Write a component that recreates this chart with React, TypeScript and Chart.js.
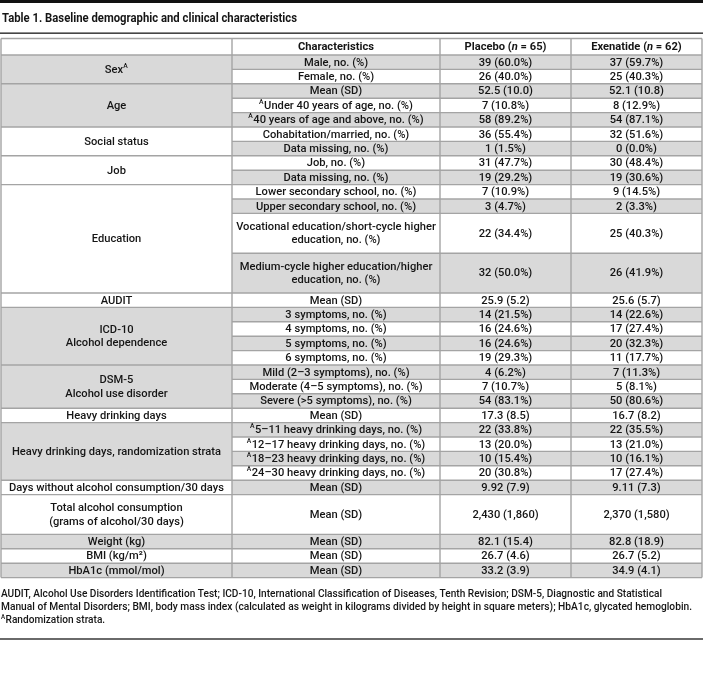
import { useEffect, useRef } from "react";
import { Chart, registerables } from "chart.js";
Chart.register(...registerables);

// ---------- data ----------
const titleText = "Table 1. Baseline demographic and clinical characteristics";
const headers = ["", "Characteristics", "Placebo (*n* = 65)", "Exenatide (*n* = 62)"];

const groupLabels = [
  "Sex{A}",
  "Age",
  "Social status",
  "Job",
  "Education",
  "AUDIT",
  "ICD-10\nAlcohol dependence",
  "DSM-5\nAlcohol use disorder",
  "Heavy drinking days",
  "Heavy drinking days, randomization strata",
  "Days without alcohol consumption/30 days",
  "Total alcohol consumption\n(grams of alcohol/30 days)",
  "Weight (kg)",
  "BMI (kg/m²)",
  "HbA1c (mmol/mol)",
];
const groupSizes = [2, 3, 2, 2, 4, 1, 4, 3, 1, 4, 1, 1, 1, 1, 1];
const groupShaded = [true, true, false, false, false, false, true, true, false, true, false, false, true, false, true];

const characteristics = [
  "Male, no. (%)",
  "Female, no. (%)",
  "Mean (SD)",
  "{A}Under 40 years of age, no. (%)",
  "{A}40 years of age and above, no. (%)",
  "Cohabitation/married, no. (%)",
  "Data missing, no. (%)",
  "Job, no. (%)",
  "Data missing, no. (%)",
  "Lower secondary school, no. (%)",
  "Upper secondary school, no. (%)",
  "Vocational education/short-cycle higher\neducation, no. (%)",
  "Medium-cycle higher education/higher\neducation, no. (%)",
  "Mean (SD)",
  "3 symptoms, no. (%)",
  "4 symptoms, no. (%)",
  "5 symptoms, no. (%)",
  "6 symptoms, no. (%)",
  "Mild (2–3 symptoms), no. (%)",
  "Moderate (4–5 symptoms), no. (%)",
  "Severe (>5 symptoms), no. (%)",
  "Mean (SD)",
  "{A}5–11 heavy drinking days, no. (%)",
  "{A}12–17 heavy drinking days, no. (%)",
  "{A}18–23 heavy drinking days, no. (%)",
  "{A}24–30 heavy drinking days, no. (%)",
  "Mean (SD)",
  "Mean (SD)",
  "Mean (SD)",
  "Mean (SD)",
  "Mean (SD)",
];
const placeboValues = [
  "39 (60.0%)", "26 (40.0%)", "52.5 (10.0)", "7 (10.8%)", "58 (89.2%)",
  "36 (55.4%)", "1 (1.5%)", "31 (47.7%)", "19 (29.2%)", "7 (10.9%)",
  "3 (4.7%)", "22 (34.4%)", "32 (50.0%)", "25.9 (5.2)", "14 (21.5%)",
  "16 (24.6%)", "16 (24.6%)", "19 (29.3%)", "4 (6.2%)", "7 (10.7%)",
  "54 (83.1%)", "17.3 (8.5)", "22 (33.8%)", "13 (20.0%)", "10 (15.4%)",
  "20 (30.8%)", "9.92 (7.9)", "2,430 (1,860)", "82.1 (15.4)", "26.7 (4.6)",
  "33.2 (3.9)",
];
const exenatideValues = [
  "37 (59.7%)", "25 (40.3%)", "52.1 (10.8)", "8 (12.9%)", "54 (87.1%)",
  "32 (51.6%)", "0 (0.0%)", "30 (48.4%)", "19 (30.6%)", "9 (14.5%)",
  "2 (3.3%)", "25 (40.3%)", "26 (41.9%)", "25.6 (5.7)", "14 (22.6%)",
  "17 (27.4%)", "20 (32.3%)", "11 (17.7%)", "7 (11.3%)", "5 (8.1%)",
  "50 (80.6%)", "16.7 (8.2)", "22 (35.5%)", "13 (21.0%)", "10 (16.1%)",
  "17 (27.4%)", "9.11 (7.3)", "2,370 (1,580)", "82.8 (18.9)", "26.7 (5.2)",
  "34.9 (4.1)",
];
const footnotes = [
  "AUDIT, Alcohol Use Disorders Identification Test; ICD-10, International Classification of Diseases, Tenth Revision; DSM-5, Diagnostic and Statistical",
  "Manual of Mental Disorders; BMI, body mass index (calculated as weight in kilograms divided by height in square meters); HbA1c, glycated hemoglobin.",
  "{A}Randomization strata.",
];

// ---------- layout / style ----------
const W = 703;
const H = 696;
const colWidths = [231, 208, 131, 131];
const ROW = 14.4;
const TALL = 39.8;
const HEAD = 16.5;
const TABLE_TOP = 38.5;
const TEXT = "#151515";
const SHADE = "#d9d9d9";
const GRID = "#a4a4a4";
const FONT = "Roboto";
const SIZE = 11.5;
const WEIGHT = "500";

// derived row units (one unit = one single row)
const groupOf: number[] = [];
groupSizes.forEach((n, g) => { for (let i = 0; i < n; i++) groupOf.push(g); });
const rowUnits: number[] = characteristics.map((c, i) =>
  c.includes("\n") || (groupLabels[groupOf[i]].includes("\n") && groupSizes[groupOf[i]] === 1) ? TALL / ROW : 1
);
const headUnits = HEAD / ROW;
const totalRows = headUnits + rowUnits.reduce((a, b) => a + b, 0);
const totalCols = colWidths.reduce((a, b) => a + b, 0) / 100;
const colEdges: number[] = [0];
colWidths.forEach((w) => colEdges.push(colEdges[colEdges.length - 1] + w / 100));
const TABLE_BOTTOM = TABLE_TOP + totalRows * ROW;

type Seg = { t: string; kind: "n" | "sup" | "it" };
function parse(s: string): Seg[] {
  const out: Seg[] = [];
  s.split(/(\{A\}|\*[^*]+\*)/).forEach((p) => {
    if (!p) return;
    if (p === "{A}") out.push({ t: "A", kind: "sup" });
    else if (p.startsWith("*") && p.endsWith("*") && p.length > 2) out.push({ t: p.slice(1, -1), kind: "it" });
    else out.push({ t: p, kind: "n" });
  });
  return out;
}
function segFont(kind: string, bold: boolean, size: number) {
  const b = bold ? "bold " : WEIGHT + " ";
  if (kind === "sup") return `${b}${Math.round(size * 0.6)}px ${FONT}`;
  if (kind === "it") return `italic ${b}${size}px ${FONT}`;
  return `${b}${size}px ${FONT}`;
}
function measureRich(ctx: CanvasRenderingContext2D, s: string, bold: boolean, size: number) {
  let w = 0;
  for (const sg of parse(s)) {
    ctx.font = segFont(sg.kind, bold, size);
    w += ctx.measureText(sg.t).width + (sg.kind === "sup" ? 0.5 : 0);
  }
  return w;
}
function drawRich(
  ctx: CanvasRenderingContext2D, s: string, x: number, y: number,
  o: { align?: "center" | "left"; bold?: boolean; size?: number; sx?: number; color?: string } = {}
) {
  const bold = !!o.bold;
  const size = o.size ?? SIZE;
  const sx = o.sx ?? 1;
  const segs = parse(s);
  const total = measureRich(ctx, s, bold, size);
  ctx.save();
  ctx.translate(x, y);
  ctx.scale(sx, 1);
  ctx.fillStyle = o.color ?? TEXT;
  ctx.textBaseline = "middle";
  ctx.textAlign = "left";
  let cx = o.align === "left" ? 0 : -total / 2;
  for (const sg of segs) {
    ctx.font = segFont(sg.kind, bold, size);
    const dy = sg.kind === "sup" ? -size * 0.33 : 0;
    ctx.fillText(sg.t, cx, dy);
    cx += ctx.measureText(sg.t).width + (sg.kind === "sup" ? 0.5 : 0);
  }
  ctx.restore();
}
function drawCellText(ctx: CanvasRenderingContext2D, s: string, cx: number, cy: number, bold = false) {
  const lines = s.split("\n");
  const lh = 13.4;
  lines.forEach((ln, i) => {
    drawRich(ctx, ln, cx, cy + (i - (lines.length - 1) / 2) * lh + 0.5, { bold, sx: 0.97 });
  });
}

const tablePlugin = {
  id: "tablePlugin",
  beforeDraw(chart: any) {
    const ctx: CanvasRenderingContext2D = chart.ctx;
    ctx.save();
    ctx.fillStyle = "#ffffff";
    ctx.fillRect(0, 0, chart.width, chart.height);
    ctx.restore();
  },
  afterDraw(chart: any) {
    const ctx: CanvasRenderingContext2D = chart.ctx;
    const xs = chart.scales.x;
    const ys = chart.scales.y;
    const px = (u: number) => xs.getPixelForValue(u);
    const py = (u: number) => ys.getPixelForValue(u);

    const tops: number[] = [headUnits];
    rowUnits.forEach((u) => tops.push(tops[tops.length - 1] + u));
    const groupStart: number[] = [];
    let r = 0;
    groupSizes.forEach((n) => { groupStart.push(r); r += n; });

    ctx.save();
    // top rule and title
    ctx.fillStyle = "#111111";
    ctx.fillRect(0, 0, chart.width, 3);
    const tw = measureRich(ctx, titleText, true, 12.5);
    drawRich(ctx, titleText, 2, 18.5, { align: "left", bold: true, size: 12.5, sx: Math.min(1, 295 / tw) });
    ctx.fillStyle = "#1a1a1a";
    ctx.fillRect(0, 32.5, chart.width, 1.3);

    // fills: characteristic rows
    characteristics.forEach((_, i) => {
      if (i % 2 === 0) {
        ctx.fillStyle = SHADE;
        ctx.fillRect(px(colEdges[1]), py(tops[i]), px(colEdges[4]) - px(colEdges[1]), py(tops[i + 1]) - py(tops[i]));
      }
    });
    // fills: group cells
    groupSizes.forEach((n, g) => {
      if (!groupShaded[g]) return;
      const a = groupStart[g];
      ctx.fillStyle = SHADE;
      ctx.fillRect(px(colEdges[0]), py(tops[a]), px(colEdges[1]) - px(colEdges[0]), py(tops[a + n]) - py(tops[a]));
    });

    // grid lines
    ctx.strokeStyle = GRID;
    ctx.lineWidth = 1.4;
    const hline = (u: number, x0: number, x1: number) => {
      ctx.beginPath();
      ctx.moveTo(px(x0), py(u));
      ctx.lineTo(px(x1), py(u));
      ctx.stroke();
    };
    hline(0, colEdges[0], colEdges[4]);
    hline(headUnits, colEdges[0], colEdges[4]);
    for (let i = 1; i <= characteristics.length; i++) {
      const isGroupEnd = groupStart.includes(i) || i === characteristics.length;
      hline(tops[i], isGroupEnd ? colEdges[0] : colEdges[1], colEdges[4]);
    }
    colEdges.forEach((e) => {
      ctx.beginPath();
      ctx.moveTo(px(e), py(0));
      ctx.lineTo(px(e), py(totalRows));
      ctx.stroke();
    });

    // header text
    headers.forEach((h, c) => {
      if (!h) return;
      drawCellText(ctx, h, (px(colEdges[c]) + px(colEdges[c + 1])) / 2, (py(0) + py(headUnits)) / 2, true);
    });
    // group labels
    groupLabels.forEach((g, i) => {
      const a = groupStart[i];
      drawCellText(ctx, g, (px(colEdges[0]) + px(colEdges[1])) / 2, (py(tops[a]) + py(tops[a + groupSizes[i]])) / 2);
    });
    // rows
    characteristics.forEach((c, i) => {
      const cy = (py(tops[i]) + py(tops[i + 1])) / 2;
      drawCellText(ctx, c, (px(colEdges[1]) + px(colEdges[2])) / 2, cy);
      drawCellText(ctx, placeboValues[i], (px(colEdges[2]) + px(colEdges[3])) / 2, cy);
      drawCellText(ctx, exenatideValues[i], (px(colEdges[3]) + px(colEdges[4])) / 2, cy);
    });

    // footnotes
    const fTargets = [661, 691];
    const w0 = measureRich(ctx, footnotes[0], false, SIZE);
    const baseSx = Math.min(1, fTargets[0] / w0);
    footnotes.forEach((f, i) => {
      const w = measureRich(ctx, f, false, SIZE);
      const sx = i < fTargets.length ? Math.min(1, fTargets[i] / w) : baseSx;
      drawRich(ctx, f, 1, py(totalRows) + 17 + i * 13, { align: "left", sx });
    });

    // bottom rule
    ctx.fillStyle = "#6a6a6a";
    ctx.fillRect(0, 638, chart.width, 2);
    ctx.restore();
  },
};

export default function App() {
  const ref = useRef<HTMLCanvasElement>(null);
  useEffect(() => {
    document.body.style.margin = "0";
    const canvas = ref.current!;
    const chart = new Chart(canvas, {
      type: "scatter",
      data: { datasets: [{ data: [], pointRadius: 0 }] },
      options: {
        responsive: false,
        animation: false,
        devicePixelRatio: 1,
        events: [],
        layout: { padding: { left: 1, right: 1, top: TABLE_TOP, bottom: H - TABLE_BOTTOM } },
        plugins: { legend: { display: false }, tooltip: { enabled: false }, title: { display: false } },
        scales: {
          x: { type: "linear", display: false, min: 0, max: totalCols },
          y: { type: "linear", display: false, min: 0, max: totalRows, reverse: true },
        },
      },
      plugins: [tablePlugin],
    } as any);
    return () => chart.destroy();
  }, []);
  return <canvas ref={ref} width={W} height={H} style={{ display: "block" }} />;
}
